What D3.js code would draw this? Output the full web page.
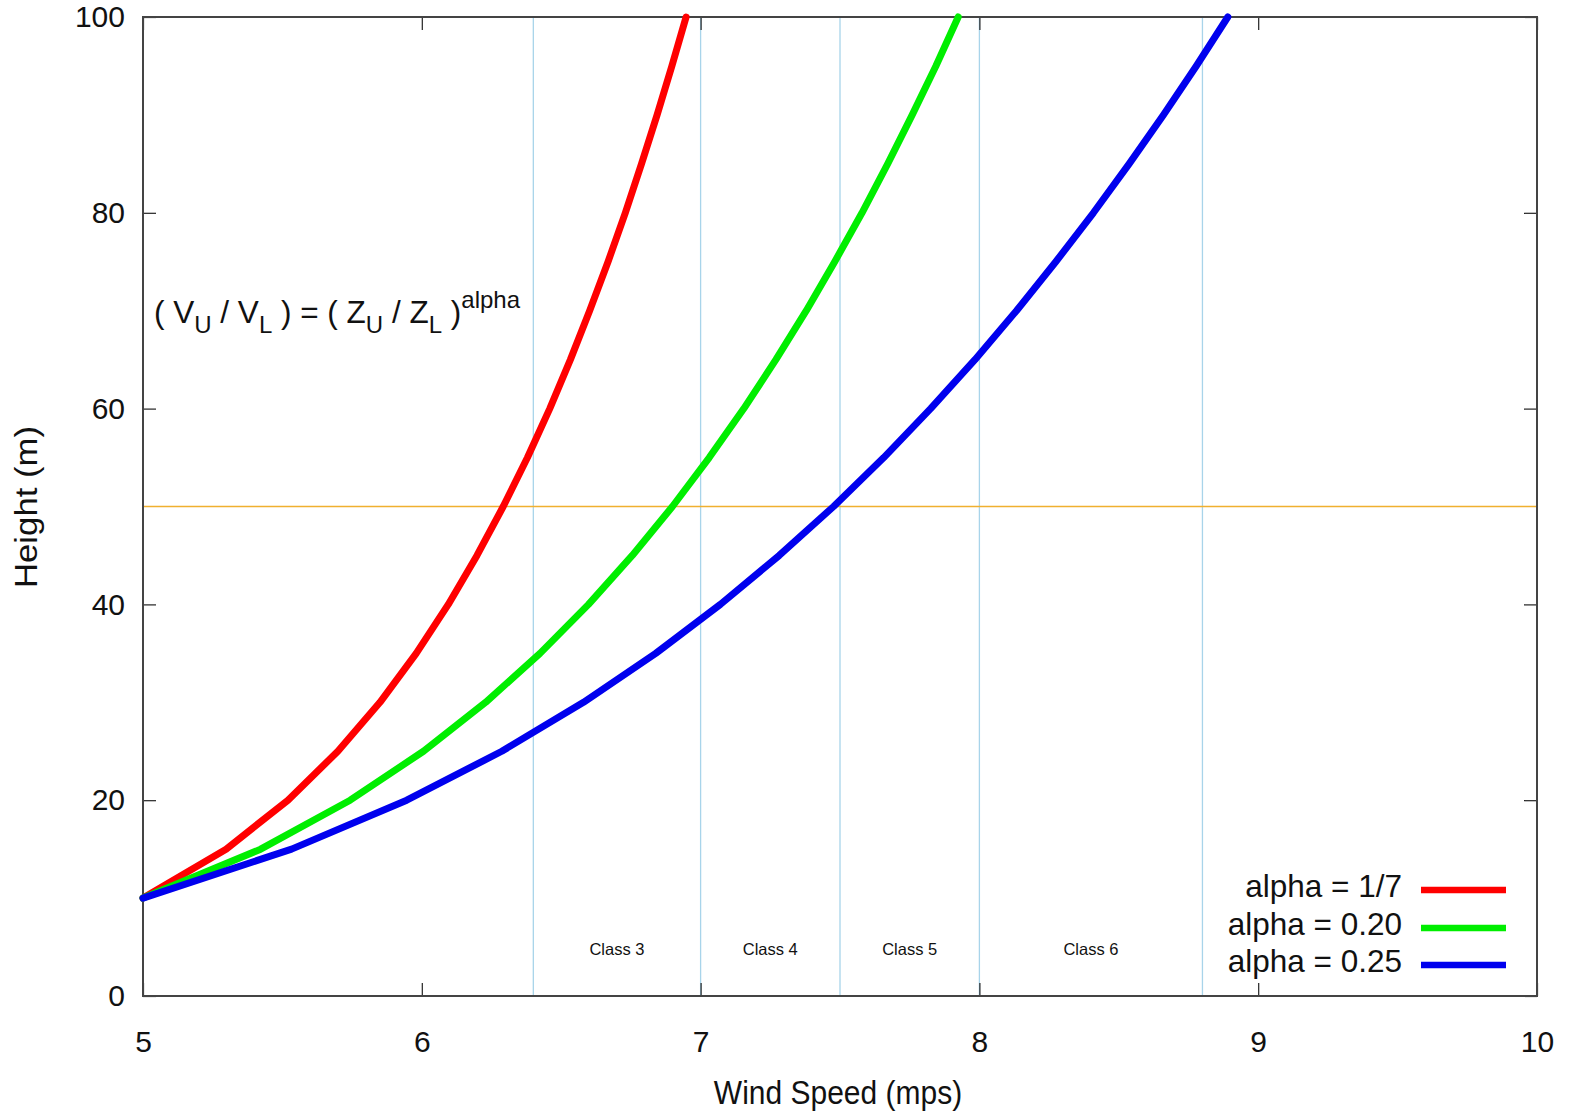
<!DOCTYPE html>
<html>
<head>
<meta charset="utf-8">
<script src="https://cdn.jsdelivr.net/npm/d3@7"></script>
<style>
html,body{margin:0;padding:0;background:#fff;}
svg text{font-family:"Liberation Sans",Arial,sans-serif;fill:#111;}
</style>
</head>
<body>
<svg id="chart" width="1572" height="1114"></svg>
<script>
// Heights (m) at which the curves are sampled
const heights = [10,15,20,25,30,35,40,45,50,55,60,65,70,75,80,85,90,95,100];
// Wind speeds (mps) for each alpha
const speedAlpha17 = [5.000,5.298,5.520,5.699,5.850,5.980,6.095,6.198,6.292,6.379,6.459,6.533,6.602,6.668,6.730,6.788,6.844,6.897,6.948];
const speedAlpha20 = [5.000,5.422,5.743,6.006,6.229,6.424,6.598,6.755,6.899,7.031,7.155,7.270,7.379,7.481,7.579,7.671,7.759,7.844,7.924];
const speedAlpha25 = [5.000,5.533,5.946,6.287,6.580,6.839,7.071,7.282,7.477,7.657,7.825,7.984,8.133,8.274,8.409,8.537,8.660,8.778,8.891];
const seriesNames = ["alpha = 1/7","alpha = 0.20","alpha = 0.25"];
const seriesColors = ["#ff0000","#00ee00","#0000ee"];
const xTicks = [5,6,7,8,9,10];
const yTicks = [0,20,40,60,80,100];
const classBounds = [6.4,7.0,7.5,8.0,8.8];
const classLabels = ["Class 3","Class 4","Class 5","Class 6"];
const classLabelX = [6.7,7.25,7.75,8.4];
const classLabelY = 5;
const refHeight = 50;

const svg = d3.select("#chart");
const L = 143, R = 1537, T = 17, B = 996;
const x = d3.scaleLinear().domain([5,10]).range([L,R]);
const y = d3.scaleLinear().domain([0,100]).range([B,T]);

// class boundary lines
svg.append("g").selectAll("line").data(classBounds).join("line")
  .attr("x1",d=>x(d)).attr("x2",d=>x(d)).attr("y1",T).attr("y2",B)
  .attr("stroke","#a8d4ea").attr("stroke-width",1.3);

// reference height line
svg.append("line").attr("x1",L).attr("x2",R).attr("y1",y(refHeight)).attr("y2",y(refHeight))
  .attr("stroke","#f0b030").attr("stroke-width",1.6);

// class labels
svg.append("g").selectAll("text").data(classLabels).join("text")
  .attr("x",(d,i)=>x(classLabelX[i])).attr("y",y(classLabelY)+2)
  .attr("text-anchor","middle").attr("dominant-baseline","central")
  .attr("font-size",16.5).text(d=>d);

// axes with inward ticks (gnuplot style)
const tickLen = 13;
const fmt = d3.format("d");
const axB = svg.append("g").attr("transform",`translate(0,${B})`)
  .call(d3.axisBottom(x).tickValues(xTicks).tickSize(-tickLen).tickPadding(35).tickFormat(fmt));
const axT = svg.append("g").attr("transform",`translate(0,${T})`)
  .call(d3.axisTop(x).tickValues(xTicks).tickSize(-tickLen).tickFormat(""));
const axL = svg.append("g").attr("transform",`translate(${L},0)`)
  .call(d3.axisLeft(y).tickValues(yTicks).tickSize(-tickLen).tickPadding(18).tickFormat(fmt));
const axR = svg.append("g").attr("transform",`translate(${R},0)`)
  .call(d3.axisRight(y).tickValues(yTicks).tickSize(-tickLen).tickFormat(""));
[axB,axT,axL,axR].forEach(a=>{
  a.select(".domain").remove();
  a.selectAll(".tick line").attr("stroke","#222").attr("stroke-width",1.2);
  a.selectAll("text").attr("font-size",30).attr("font-family","'Liberation Sans',Arial,sans-serif").attr("fill","#111");
});
svg.append("rect").attr("x",L).attr("y",T).attr("width",R-L).attr("height",B-T)
  .attr("fill","none").attr("stroke","#444").attr("stroke-width",2);

// curves
const line = d3.line().x(d=>x(d[0])).y(d=>y(d[1]));
const seriesData = [speedAlpha17,speedAlpha20,speedAlpha25];
svg.append("g").selectAll("path").data(seriesData).join("path")
  .attr("d",s=>line(s.map((v,i)=>[v,heights[i]])))
  .attr("fill","none").attr("stroke",(d,i)=>seriesColors[i]).attr("stroke-width",7)
  .attr("stroke-linejoin","round").attr("stroke-linecap","round");

// formula
const f = svg.append("text").attr("x",154).attr("y",323).attr("font-size",31.5);
const sub = 24, sh = 10;
f.append("tspan").text("( V");
f.append("tspan").attr("font-size",sub).attr("dy",sh).text("U");
f.append("tspan").attr("dy",-sh).text(" / V");
f.append("tspan").attr("font-size",sub).attr("dy",sh).text("L");
f.append("tspan").attr("dy",-sh).text(" ) = ( Z");
f.append("tspan").attr("font-size",sub).attr("dy",sh).text("U");
f.append("tspan").attr("dy",-sh).text(" / Z");
f.append("tspan").attr("font-size",sub).attr("dy",sh).text("L");
f.append("tspan").attr("dy",-sh).text(" )");
f.append("tspan").attr("font-size",sub).attr("dy",-15).text("alpha");

// legend
const legY = [886,924,961];
const lg = svg.append("g");
lg.selectAll("text").data(seriesNames).join("text")
  .attr("x",1402).attr("y",(d,i)=>legY[i]).attr("text-anchor","end")
  .attr("dominant-baseline","central").attr("font-size",31.5).text(d=>d);
lg.selectAll("line").data(seriesNames).join("line")
  .attr("x1",1421).attr("x2",1506).attr("y1",(d,i)=>legY[i]+4).attr("y2",(d,i)=>legY[i]+4)
  .attr("stroke",(d,i)=>seriesColors[i]).attr("stroke-width",6.5);

// axis titles
svg.append("text").attr("transform","translate(838,1104) scale(1,1.12)").attr("text-anchor","middle").attr("font-size",30).text("Wind Speed (mps)");
svg.append("text").attr("transform","translate(37,507) rotate(-90) scale(1.12,1)").attr("text-anchor","middle").attr("font-size",31).text("Height (m)");
</script>
</body>
</html>
